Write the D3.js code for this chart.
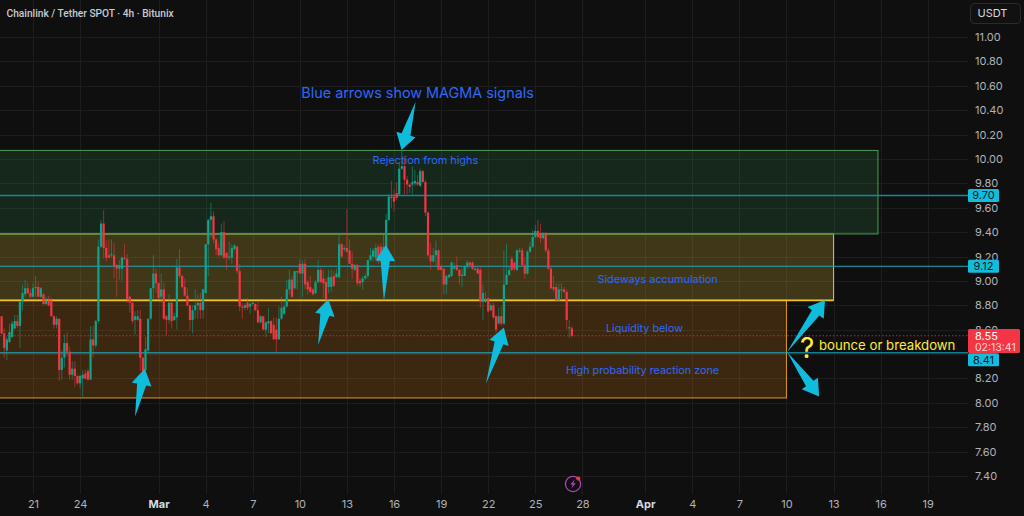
<!DOCTYPE html>
<html>
<head>
<meta charset="utf-8">
<script src="https://cdn.jsdelivr.net/npm/d3@7/dist/d3.min.js"></script>
<style>
html,body{margin:0;padding:0;background:#0f0f0f;overflow:hidden}
svg{display:block}
text{font-family:Inter,Roboto,"Noto Sans",sans-serif}
</style>
</head>
<body>
<svg id="chart" width="1024" height="516"></svg>
<script>
const title = "Chainlink / Tether SPOT · 4h · Bitunix";
const firstBar = "2025-02-19T00:00:00Z";
const opens = [8.71,8.57,8.43,8.50,8.54,8.61,8.67,8.63,8.83,8.89,8.94,8.90,8.87,8.94,8.95,8.87,8.89,8.81,8.84,8.84,8.71,8.64,8.69,8.27,8.37,8.49,8.42,8.23,8.28,8.22,8.16,8.20,8.24,8.26,8.19,8.52,8.47,8.67,9.28,9.47,9.27,9.21,9.21,9.21,9.13,9.10,9.10,9.19,9.18,8.87,8.82,8.68,8.68,8.69,8.37,8.27,8.43,8.69,8.94,9.06,8.98,8.87,8.93,8.71,8.68,8.82,8.68,8.70,9.11,9.04,8.95,8.88,8.80,8.68,8.76,8.80,8.82,8.76,8.90,9.30,9.50,9.53,9.34,9.27,9.21,9.40,9.23,9.19,9.19,9.26,9.28,9.08,8.79,8.78,8.82,8.79,8.81,8.81,8.76,8.66,8.71,8.60,8.65,8.67,8.64,8.60,8.52,8.69,8.73,8.79,8.93,9.01,8.94,9.07,9.14,9.06,9.14,8.99,8.95,8.93,8.90,8.99,9.09,9.02,8.99,8.95,8.95,9.04,9.03,9.03,9.30,9.26,9.27,9.25,9.14,9.09,9.13,9.00,8.99,9.02,9.04,9.17,9.20,9.19,9.28,9.28,9.16,9.23,9.50,9.69,9.69,9.72,9.71,9.92,9.94,9.83,9.79,9.79,9.80,9.81,9.78,9.90,9.81,9.56,9.21,9.16,9.21,9.25,9.12,9.10,8.97,9.03,9.04,9.10,9.13,9.09,9.04,9.04,9.12,9.15,9.15,9.09,9.10,9.09,8.83,8.83,8.86,8.76,8.80,8.71,8.65,8.71,8.65,8.97,9.05,9.18,9.15,9.09,9.24,9.25,9.13,9.06,9.24,9.28,9.36,9.41,9.38,9.35,9.39,9.25,9.10,8.95,8.95,8.84,8.92,8.93,8.91,8.61,8.61];
const highs = [8.71,8.61,8.54,8.65,8.67,8.72,8.72,8.83,8.97,9.01,8.98,8.93,8.98,9.04,8.99,8.95,8.90,8.87,8.88,8.86,8.72,8.71,8.69,8.43,8.56,8.58,8.46,8.34,8.34,8.23,8.23,8.27,8.27,8.28,8.63,8.63,8.68,9.34,9.50,9.58,9.33,9.34,9.34,9.31,9.14,9.17,9.20,9.30,9.22,8.88,8.83,8.75,8.76,8.76,8.38,8.54,8.69,8.94,9.21,9.10,8.99,9.06,8.98,8.72,8.89,8.84,8.74,9.18,9.26,9.05,9.02,8.94,8.80,8.80,8.93,8.89,8.90,8.93,9.30,9.51,9.64,9.57,9.35,9.31,9.47,9.49,9.23,9.32,9.30,9.30,9.29,9.14,8.82,8.82,8.86,8.83,8.83,8.82,8.83,8.72,8.71,8.67,8.78,8.68,8.70,8.70,8.79,8.87,8.84,9.01,9.09,9.04,9.08,9.08,9.18,9.17,9.18,9.01,9.04,8.94,9.01,9.17,9.11,9.09,9.02,9.09,9.09,9.08,9.10,9.39,9.31,9.29,9.59,9.34,9.24,9.14,9.14,9.02,9.04,9.06,9.17,9.27,9.27,9.30,9.30,9.31,9.39,9.55,9.71,9.82,9.75,9.81,9.97,10.07,10.02,9.86,9.80,9.94,9.91,9.87,9.92,9.91,9.83,9.57,9.31,9.27,9.33,9.26,9.13,9.10,9.05,9.06,9.16,9.15,9.20,9.10,9.10,9.13,9.17,9.16,9.16,9.12,9.12,9.12,8.97,8.91,8.86,8.82,8.82,8.72,8.78,8.79,9.25,9.30,9.12,9.20,9.16,9.26,9.27,9.27,9.19,9.25,9.32,9.42,9.46,9.50,9.47,9.40,9.40,9.27,9.12,9.04,8.98,8.98,8.98,8.95,8.93,8.68,8.63];
const lows = [8.56,8.37,8.35,8.49,8.53,8.60,8.61,8.45,8.76,8.87,8.89,8.86,8.87,8.87,8.87,8.86,8.80,8.80,8.79,8.71,8.61,8.61,8.18,8.19,8.29,8.38,8.19,8.19,8.13,8.15,8.12,8.05,8.19,8.18,8.19,8.37,8.45,8.65,9.27,9.19,9.16,9.19,9.19,9.02,8.87,9.01,9.00,9.17,8.82,8.74,8.65,8.56,8.67,8.26,8.22,8.26,8.41,8.68,8.84,8.90,8.85,8.82,8.68,8.55,8.65,8.61,8.67,8.60,9.02,8.94,8.87,8.79,8.60,8.57,8.69,8.69,8.69,8.69,8.90,9.04,9.36,9.31,9.21,9.20,9.20,9.18,9.09,9.17,9.14,9.25,9.06,8.75,8.69,8.76,8.76,8.73,8.80,8.75,8.65,8.65,8.60,8.54,8.57,8.57,8.52,8.42,8.52,8.68,8.72,8.78,8.89,8.86,8.93,8.93,9.06,8.87,8.93,8.89,8.90,8.88,8.89,8.98,8.98,8.86,8.84,8.90,8.91,8.95,9.02,9.02,9.19,9.24,9.23,9.14,9.02,9.08,8.96,8.95,8.93,9.01,9.02,9.16,9.16,9.17,9.14,9.15,9.15,9.21,9.49,9.60,9.57,9.66,9.70,9.91,9.71,9.71,9.72,9.71,9.78,9.78,9.77,9.81,9.53,9.20,9.09,9.15,9.12,9.09,9.09,8.89,8.89,9.02,9.03,9.09,9.08,8.97,8.95,9.04,9.10,9.12,9.09,9.08,9.06,8.78,8.68,8.82,8.74,8.75,8.69,8.57,8.64,8.63,8.64,8.97,9.04,9.08,9.08,9.08,9.23,9.12,9.02,9.05,9.23,9.27,9.35,9.35,9.31,9.34,9.23,9.09,8.93,8.91,8.83,8.83,8.84,8.90,8.60,8.53,8.54];
const closes = [8.57,8.45,8.52,8.58,8.65,8.67,8.63,8.83,8.90,8.94,8.90,8.87,8.94,8.95,8.87,8.94,8.81,8.84,8.80,8.71,8.64,8.69,8.27,8.37,8.49,8.42,8.23,8.28,8.22,8.16,8.22,8.23,8.20,8.19,8.52,8.47,8.67,9.28,9.47,9.27,9.19,9.19,9.22,9.12,9.10,9.13,9.19,9.18,8.85,8.82,8.67,8.71,8.71,8.37,8.26,8.44,8.69,8.94,9.06,8.98,8.86,8.93,8.69,8.68,8.82,8.67,8.71,9.11,9.04,8.95,8.88,8.80,8.68,8.76,8.80,8.82,8.76,8.93,9.30,9.50,9.53,9.34,9.26,9.21,9.40,9.19,9.19,9.20,9.27,9.29,9.08,8.79,8.78,8.80,8.78,8.81,8.82,8.76,8.66,8.71,8.60,8.66,8.67,8.57,8.52,8.52,8.69,8.78,8.79,8.93,9.01,8.87,9.08,9.08,9.06,9.14,8.97,8.93,8.91,8.89,8.99,9.09,8.99,8.98,8.85,9.03,9.03,8.96,9.06,9.30,9.20,9.27,9.24,9.14,9.10,9.13,8.98,8.98,9.02,9.04,9.17,9.21,9.25,9.27,9.16,9.16,9.28,9.50,9.69,9.68,9.65,9.68,9.92,9.94,9.83,9.79,9.77,9.81,9.82,9.79,9.90,9.81,9.56,9.21,9.16,9.21,9.25,9.09,9.09,8.97,9.04,9.05,9.15,9.12,9.09,9.04,9.05,9.12,9.15,9.13,9.10,9.10,9.06,8.83,8.90,8.85,8.75,8.80,8.70,8.60,8.71,8.65,8.97,9.05,9.09,9.09,9.10,9.25,9.25,9.13,9.06,9.24,9.28,9.36,9.41,9.36,9.35,9.39,9.25,9.10,8.94,8.93,8.84,8.93,8.93,8.91,8.68,8.62,8.55];
const priceTicks = [7.4,7.6,7.8,8.0,8.2,8.4,8.6,8.8,9.0,9.2,9.4,9.6,9.8,10.0,10.2,10.4,10.6,10.8,11.0];
const dateTicks = ["2025-02-21","2025-02-24","2025-03-01","2025-03-04","2025-03-07","2025-03-10","2025-03-13","2025-03-16","2025-03-19","2025-03-22","2025-03-25","2025-03-28","2025-04-01","2025-04-04","2025-04-07","2025-04-10","2025-04-13","2025-04-16","2025-04-19"];
const dateTickLabels = ["21","24","Mar","4","7","10","13","16","19","22","25","28","Apr","4","7","10","13","16","19"];
const zoneNames = ["Demand","Range","Supply"];
const zoneTops = [8.84,9.385,10.07];
const zoneBottoms = [8.04,8.84,9.385];
const zoneEnds = ["2025-04-10T00:00:00Z","2025-04-13T00:00:00Z","2025-04-15T20:00:00Z"];
const zoneFills = ["rgba(240,140,20,0.2)","rgba(240,200,60,0.22)","rgba(60,160,90,0.17)"];
const zoneStrokes = ["#e39a1c","#d8c23a","#4e9c55"];
const levelValues = [9.70,9.12,8.41];
const levelColors = ["#128a9c","#1aa9be","#1cb8cf"];
const lastPrice = 8.55;
const countdown = "02:13:41";
const arrowTailDates = ["2025-02-27T12:00Z","2025-03-11T04:00Z","2025-03-15T08:30Z","2025-03-21T20:30Z","2025-03-17T09:00Z","2025-04-10T01:00Z","2025-04-10T01:00Z"];
const arrowTailPrices = [7.885,8.475,8.83,8.156,10.47,8.416,8.416];
const arrowTipDates = ["2025-02-28T03:00Z","2025-03-11T19:30Z","2025-03-15T11:30Z","2025-03-23T00:00Z","2025-03-16T11:30Z","2025-04-12T11:00Z","2025-04-12T02:00Z"];
const arrowTipPrices = [8.279,8.85,9.295,8.617,10.074,8.844,8.052];
const noteTexts = ["Blue arrows show MAGMA signals","Rejection from highs","Sideways accumulation","Liquidity below","High probability reaction zone"];
const noteDates = ["2025-03-17T12:00Z","2025-03-18T00:00Z","2025-04-01T19:00Z","2025-03-31T23:00Z","2025-03-31T20:00Z"];
const notePrices = [10.54,9.99,9.01,8.615,8.27];
const noteSizes = [14.4,10.9,10.8,10.8,10.8];

const svg = d3.select("#chart");
const W = 1024, H = 516, paneW = 968, paneH = 494;
const bg = "#0f0f0f";
svg.append("rect").attr("width",W).attr("height",H).attr("fill",bg);
const x = d3.scaleUtc().domain([new Date("2025-02-21T00:00:00Z"),new Date("2025-04-19T00:00:00Z")]).range([33,927.7]);
const y = d3.scaleLinear().domain([7.4,11]).range([476,37]);
const barTime = i => new Date(+new Date(firstBar) + i*4*3600e3);

svg.append("clipPath").attr("id","pane").append("rect").attr("width",paneW).attr("height",paneH);
const pane = svg.append("g").attr("clip-path","url(#pane)");

// grid
const gridColor = "#1d1d1d";
pane.append("g").selectAll("line").data(dateTicks).join("line")
  .attr("x1",d=>Math.round(x(new Date(d+"T00:00:00Z")))+.5).attr("x2",d=>Math.round(x(new Date(d+"T00:00:00Z")))+.5)
  .attr("y1",0).attr("y2",paneH).attr("stroke",gridColor);
pane.append("g").selectAll("line").data(priceTicks).join("line")
  .attr("y1",d=>Math.round(y(d))+.5).attr("y2",d=>Math.round(y(d))+.5)
  .attr("x1",0).attr("x2",paneW).attr("stroke",gridColor);

// zones
const zoneG = pane.append("g");
zoneNames.forEach((n,i)=>{
  zoneG.append("rect")
    .attr("x",x(new Date("2025-02-15T00:00:00Z")))
    .attr("width",x(new Date(zoneEnds[i]))-x(new Date("2025-02-15T00:00:00Z")))
    .attr("y",y(zoneTops[i])).attr("height",y(zoneBottoms[i])-y(zoneTops[i]))
    .attr("fill",zoneFills[i]).attr("stroke",zoneStrokes[i]).attr("stroke-width",1);
});

// current-price dashed line
pane.append("line").attr("x1",0).attr("x2",paneW).attr("y1",y(lastPrice)).attr("y2",y(lastPrice))
  .attr("stroke","#c9343f").attr("stroke-dasharray","1.5 2").attr("stroke-width",1).attr("opacity",.85);

// level lines
pane.append("g").selectAll("line").data(levelValues).join("line")
  .attr("x1",0).attr("x2",paneW).attr("y1",d=>y(d)).attr("y2",d=>y(d))
  .attr("stroke",(d,i)=>levelColors[i]).attr("stroke-width",(d,i)=>i==0?1.5:1);
// strong range floor
pane.append("line").attr("x1",0).attr("x2",x(new Date(zoneEnds[1]))).attr("y1",y(zoneTops[0])).attr("y2",y(zoneTops[0]))
  .attr("stroke","#efc31f").attr("stroke-width",1.8);

// candles
const up = "#0ba58d", down = "#f23645";
const candles = pane.append("g");
opens.forEach((o,i)=>{
  const c = closes[i], col = c>=o?up:down, cx = x(barTime(i));
  candles.append("line").attr("x1",cx).attr("x2",cx).attr("y1",y(highs[i])).attr("y2",y(lows[i]))
    .attr("stroke",col).attr("stroke-width",1).attr("opacity",.55);
  candles.append("rect").attr("x",cx-1.1).attr("width",2.2)
    .attr("y",y(Math.max(o,c))).attr("height",Math.max(1,Math.abs(y(o)-y(c))))
    .attr("fill",col);
});

// arrows
const arrowColor = "#0fbcdb";
function arrowPath(tx,ty,hx,hy){
  const dx=hx-tx, dy=hy-ty, len=Math.hypot(dx,dy), ux=dx/len, uy=dy/len, px=-uy, py=ux;
  const L=16, Wd=10, w=4.6;
  const bx=hx-ux*L, by=hy-uy*L;
  return d3.line()([[tx,ty],[bx+px*w,by+py*w],[bx+px*Wd,by+py*Wd],[hx,hy],[bx-px*Wd,by-py*Wd],[bx-px*w,by-py*w]])+"Z";
}
pane.append("g").selectAll("path").data(arrowTailDates).join("path")
  .attr("d",(d,i)=>arrowPath(x(new Date(d)),y(arrowTailPrices[i]),x(new Date(arrowTipDates[i])),y(arrowTipPrices[i])))
  .attr("fill",arrowColor);

// notes
const noteColor = "#2e68fa";
svg.append("g").selectAll("text").data(noteTexts).join("text")
  .attr("x",(d,i)=>x(new Date(noteDates[i]))).attr("y",(d,i)=>y(notePrices[i]))
  .attr("dy","0.35em").attr("text-anchor","middle").attr("font-size",(d,i)=>noteSizes[i])
  .attr("fill",noteColor).text(d=>d);
svg.append("text").attr("x",800).attr("y",358).attr("font-size",28).attr("fill","#ffeb3b").text("?");
svg.append("text").attr("x",819).attr("y",349.5).attr("font-size",13.2).attr("fill","#ffeb3b").text("bounce or breakdown");

// title
svg.append("text").attr("x",6.5).attr("y",17).attr("font-size",10.2).attr("font-weight",500).attr("fill","#c8cbd2").style("font-family","Roboto,sans-serif").text(title);

// price axis (the 8.40 label sits fully behind the 8.41 tag)
const axisColor = "#b0b3ba";
const yAxis = d3.axisRight(y).tickValues(priceTicks.filter(t=>t!==8.4)).tickSize(0).tickPadding(0).tickFormat(d3.format(".2f"));
const yG = svg.append("g").attr("transform","translate(975,0)").call(yAxis);
yG.select(".domain").remove();
yG.selectAll("text").attr("font-size",11).attr("fill",axisColor).attr("font-family","Inter,Roboto,sans-serif");

// date axis
const xDates = dateTicks.map(d=>new Date(d+"T00:00:00Z"));
const xAxis = d3.axisBottom(x).tickValues(xDates).tickSize(0).tickPadding(0).tickFormat((d,i)=>dateTickLabels[i]);
const xG = svg.append("g").attr("transform","translate(0,500)").call(xAxis);
xG.select(".domain").remove();
xG.selectAll("text").attr("font-size",11).attr("fill",axisColor).attr("font-family","Inter,Roboto,sans-serif")
  .attr("font-weight",(d,i)=>isNaN(+dateTickLabels[i])?700:400)
  .style("fill",(d,i)=>isNaN(+dateTickLabels[i])?"#d8dae0":axisColor);

// level tags
const tagColor = "#14bcdc", tagText = "#0b1a1e";
const tagOffsets = [0,0,7];
levelValues.forEach((v,i)=>{
  const cy = y(v)+tagOffsets[i];
  svg.append("rect").attr("x",968).attr("y",cy-6.5).attr("width",31).attr("height",13).attr("rx",1.5).attr("fill",tagColor);
  svg.append("text").attr("x",983.5).attr("y",cy).attr("dy","0.36em").attr("text-anchor","middle").attr("font-size",11).attr("fill",tagText).text(d3.format(".2f")(v));
});
svg.append("rect").attr("x",968).attr("y",329).attr("width",52).attr("height",24).attr("rx",1.5).attr("fill","#f23645");
svg.append("text").attr("x",975).attr("y",336).attr("dy","0.36em").attr("font-size",11).attr("fill","#fff").text(d3.format(".2f")(lastPrice));
svg.append("text").attr("x",975).attr("y",347).attr("dy","0.36em").attr("font-size",10.5).attr("fill","#ffd5d9").text(countdown);

// currency chip
svg.append("rect").attr("x",970.5).attr("y",3.5).attr("width",50).attr("height",20).attr("rx",3.5).attr("fill","#111").attr("stroke","#2b2b2d");
svg.append("text").attr("x",977.5).attr("y",13.5).attr("dy","0.36em").attr("font-size",11).attr("fill","#d8dae0").text("USDT");

// lightning badge
const bolt = svg.append("g").attr("transform","translate(573,484)");
bolt.append("circle").attr("r",7.6).attr("fill","none").attr("stroke","#a843b8").attr("stroke-width",1.3);
bolt.append("path").attr("d","M1.6,-4.4 L-2.8,0.6 L-0.3,0.6 L-1.6,4.4 L2.8,-0.8 L0.3,-0.8 Z").attr("fill","#a843b8");
bolt.append("circle").attr("cx",5.3).attr("cy",-5.4).attr("r",2.1).attr("fill","#f23645");
</script>
</body>
</html>
